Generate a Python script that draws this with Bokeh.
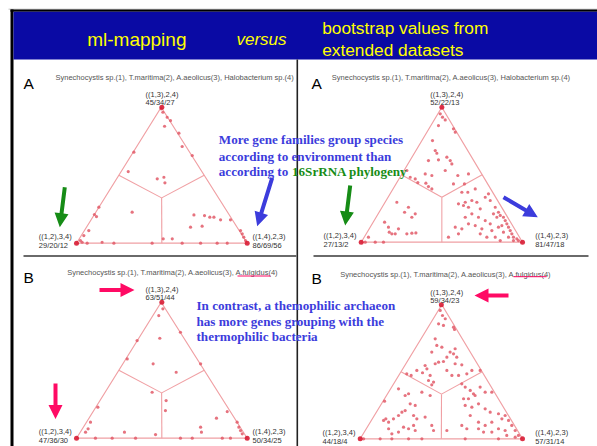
import math
from bokeh.plotting import figure
from bokeh.models import Range1d
from bokeh.core.properties import value
from bokeh.embed import file_html
from bokeh.resources import INLINE

# ---------------- data ----------------
header_left = "ml-mapping"
header_mid = "versus"
header_right = ["bootstrap values from", "extended datasets"]

subtitle_A = "Synechocystis sp.(1), T.maritima(2), A.aeolicus(3), Halobacterium sp.(4)"
subtitle_B = "Synechocystis sp.(1), T.maritima(2), A.aeolicus(3), A.fulgidus(4)"

vertex_top = "((1,3),2,4)"
vertex_left = "((1,2),3,4)"
vertex_right = "((1,4),2,3)"

counts_tl = ["45/34/27", "29/20/12", "86/69/56"]
counts_tr = ["52/22/13", "27/13/2", "81/47/18"]
counts_bl = ["63/51/44", "47/36/30", "50/34/25"]
counts_br = ["59/34/23", "44/18/4", "57/31/14"]

ann1_lines = ["More gene families group species", "according to environment than", "according to"]
ann1_green = "16SrRNA phylogeny"
ann2_lines = ["In contrast, a themophilic archaeon", "has more genes grouping with the", "thermophilic bacteria"]

# points: u = horizontal fraction of base, v = height fraction (apex = 1)
tl_u = [0.496, 0.506, 0.531, 0.551, 0.516, 0.600, 0.619, 0.678, 0.336, 0.303, 0.473, 0.512, 0.518, 0.131, 0.105,
        0.117, 0.326, 0.072, 0.043, 0.023, 0.688, 0.750, 0.781, 0.805, 0.844, 0.902, 0.668, 0.736, 0.508, 0.561,
        0.150, 0.219, 0.443, 0.619, 0.727, 0.824, 0.883, 0.961, 0.971, 0.980, 0.990, 0.033, 0.0625]
tl_v = [0.988, 0.963, 0.926, 0.902, 0.860, 0.809, 0.711, 0.645, 0.669, 0.527, 0.473, 0.485, 0.444, 0.265, 0.211,
        0.196, 0.228, 0.093, 0.056, 0.020, 0.208, 0.203, 0.191, 0.191, 0.172, 0.172, 0.118, 0.125, 0.032, 0.032,
        0.007, 0.0, 0.0, 0.0, 0.0, 0.0, 0.0, 0.093, 0.069, 0.044, 0.020, 0.007, 0.0]

tr_u = [0.490, 0.504, 0.521, 0.479, 0.572, 0.583, 0.442, 0.459, 0.469, 0.531, 0.417, 0.479, 0.552, 0.562, 0.283,
        0.304, 0.397, 0.438, 0.521, 0.599, 0.335, 0.351, 0.401, 0.417, 0.438, 0.665, 0.572, 0.640, 0.707,
        0.221, 0.293, 0.335, 0.314, 0.269, 0.145, 0.169, 0.174, 0.211, 0.190, 0.231, 0.283, 0.314, 0.339, 0.025,
        0.087, 0.138, 0.045,
        0.624, 0.661, 0.645, 0.603, 0.634, 0.665, 0.686, 0.717, 0.738, 0.769, 0.789, 0.800, 0.831, 0.851, 0.862,
        0.882, 0.893, 0.903, 0.913, 0.924, 0.934, 0.944, 0.965, 0.975, 0.686, 0.727, 0.769, 0.800, 0.748, 0.810,
        0.851, 0.882, 0.645, 0.665, 0.707, 0.738, 0.779, 0.831, 0.862, 0.583, 0.624, 0.603, 0.541, 0.820, 0.841,
        0.913, 0.944, 0.872]
tr_v = [0.951, 0.926, 0.906, 0.864, 0.840, 0.815, 0.753, 0.679, 0.659, 0.630, 0.605, 0.610, 0.605, 0.580, 0.531,
        0.481, 0.506, 0.494, 0.531, 0.494, 0.469, 0.442, 0.437, 0.412, 0.395, 0.506, 0.432, 0.432, 0.395,
        0.296, 0.259, 0.210, 0.185, 0.222, 0.148, 0.111, 0.074, 0.062, 0.062, 0.099, 0.062, 0.067, 0.069, 0.0,
        0.0, 0.0, 0.037,
        0.370, 0.370, 0.296, 0.284, 0.272, 0.259, 0.309, 0.296, 0.247, 0.333, 0.358, 0.309, 0.259, 0.222, 0.198,
        0.185, 0.160, 0.136, 0.111, 0.086, 0.062, 0.037, 0.025, 0.012, 0.210, 0.185, 0.160, 0.136, 0.099, 0.086,
        0.111, 0.074, 0.185, 0.136, 0.123, 0.062, 0.037, 0.037, 0.012, 0.111, 0.099, 0.062, 0.037, 0.210, 0.185,
        0.037, 0.012, 0.123]

bl_u = [0.506, 0.482, 0.609, 0.355, 0.488, 0.297, 0.449, 0.727, 0.584, 0.443, 0.525, 0.125, 0.521, 0.820, 0.883,
        0.082, 0.068, 0.053, 0.281, 0.463, 0.727, 0.732, 0.941, 0.951, 0.961, 0.971, 0.111, 0.209, 0.346, 0.609,
        0.678, 0.854, 0.902]
bl_v = [0.951, 0.902, 0.779, 0.718, 0.735, 0.583, 0.547, 0.547, 0.485, 0.338, 0.277, 0.228, 0.203, 0.147, 0.196,
        0.118, 0.069, 0.044, 0.044, 0.027, 0.081, 0.044, 0.118, 0.081, 0.056, 0.032, 0.0, 0.0, 0.0, 0.0,
        0.0, 0.0, 0.0]

br_u = [0.493, 0.507, 0.524, 0.483, 0.513, 0.575, 0.581, 0.462, 0.472, 0.503, 0.585, 0.441, 0.554, 0.575, 0.534,
        0.595, 0.483, 0.462, 0.513, 0.585, 0.626, 0.400, 0.411, 0.287, 0.314, 0.349, 0.384, 0.431, 0.421, 0.452,
        0.441, 0.534, 0.565, 0.606, 0.657, 0.688, 0.739,
        0.236, 0.277, 0.298, 0.380, 0.431, 0.150, 0.158, 0.144, 0.175, 0.205, 0.236, 0.257, 0.277, 0.308, 0.339,
        0.329, 0.349, 0.400, 0.267, 0.298, 0.329, 0.339, 0.236, 0.195, 0.175, 0.441, 0.452, 0.021, 0.123, 0.195,
        0.298, 0.380, 0.534,
        0.626, 0.647, 0.678, 0.698, 0.637, 0.667, 0.708, 0.739, 0.770, 0.811, 0.647, 0.688, 0.729, 0.770, 0.801,
        0.852, 0.893, 0.914, 0.934, 0.955, 0.975, 0.678, 0.729, 0.770, 0.811, 0.626, 0.657, 0.729, 0.760, 0.811,
        0.852, 0.893, 0.903, 0.873, 0.955, 0.647, 0.852]
br_v = [0.958, 0.920, 0.896, 0.858, 0.846, 0.833, 0.816, 0.746, 0.697, 0.684, 0.672, 0.647, 0.647, 0.634, 0.609,
        0.609, 0.572, 0.560, 0.577, 0.560, 0.552, 0.547, 0.522, 0.485, 0.473, 0.510, 0.493, 0.473, 0.435, 0.423,
        0.403, 0.510, 0.473, 0.473, 0.485, 0.510, 0.510,
        0.373, 0.323, 0.336, 0.348, 0.323, 0.281, 0.149, 0.137, 0.124, 0.149, 0.174, 0.199, 0.211, 0.261, 0.249,
        0.174, 0.149, 0.162, 0.087, 0.075, 0.100, 0.062, 0.050, 0.037, 0.075, 0.100, 0.062, 0.0, 0.0, 0.0,
        0.0, 0.0, 0.062,
        0.410, 0.386, 0.361, 0.336, 0.299, 0.299, 0.323, 0.386, 0.348, 0.348, 0.249, 0.236, 0.261, 0.224, 0.199,
        0.187, 0.174, 0.137, 0.100, 0.062, 0.025, 0.174, 0.124, 0.100, 0.124, 0.100, 0.075, 0.075, 0.050, 0.050,
        0.075, 0.062, 0.025, 0.149, 0.012, 0.0, 0.0]

# corner clusters (u, v) for each vertex
corner_u = [0.5, 0.0, 1.0]
corner_v = [1.0, 0.0, 0.0]

# ---------------- styles / layout ----------------
SANS = value("Liberation Sans")
SERIF = value("Liberation Serif")
BLUE_HDR = "#0a0aa4"
YELLOW = "#ffff00"
TRI = "#f0a0a4"
DOT = "#e25a68"
ANN_BLUE = "#3c3cdc"
ANN_GREEN = "#168c16"
PINK = "#ff0a64"

panels = [
    dict(apex=(160.7, 106.7), bl=(76.0, 242.7), br=(246.7, 242.7), u=tl_u, v=tl_v, counts=counts_tl,
         letter="A", lx=23, ly=82.7, sub=subtitle_A, sx=55, sy=77.3, tdx=-15.7, rdx=5.3),
    dict(apex=(441.3, 106.7), bl=(360.7, 241.7), br=(522.0, 241.7), u=tr_u, v=tr_v, counts=counts_tr,
         letter="A", lx=311, ly=82.7, sub=subtitle_A, sx=331.3, sy=77.3, tdx=-11.6, rdx=12.7),
    dict(apex=(160.7, 301.7), bl=(76.0, 437.7), br=(246.7, 437.7), u=bl_u, v=bl_v, counts=counts_bl,
         letter="B", lx=23, ly=276.7, sub=subtitle_B, sx=66.7, sy=272.3, tdx=-15.7, rdx=5.3),
    dict(apex=(441.3, 304.3), bl=(359.7, 438.3), br=(522.0, 438.3), u=br_u, v=br_v, counts=counts_br,
         letter="B", lx=311, ly=277.7, sub=subtitle_B, sx=339.7, sy=274.0, tdx=-11.6, rdx=12.7),
]

p = figure(width=597, height=446, x_range=Range1d(0, 597), y_range=Range1d(446, 0),
           output_backend="svg", toolbar_location=None, x_axis_type=None, y_axis_type=None,
           min_border=0)
p.outline_line_color = None
p.background_fill_color = "white"

# slide frame / header
p.quad(left=[8], right=[597], top=[8.2], bottom=[9], fill_color="#b0b0b0", line_color=None)
p.quad(left=[10], right=[597], top=[9], bottom=[11.3], fill_color="black", line_color=None)
p.quad(left=[10], right=[13], top=[9], bottom=[446], fill_color="black", line_color=None)
p.quad(left=[13], right=[597], top=[11.3], bottom=[59], fill_color=BLUE_HDR, line_color=None)
p.quad(left=[296], right=[297.6], top=[59], bottom=[446], fill_color="#222222", line_color=None)
p.quad(left=[23, 313], right=[296, 588], top=[254.5, 254.5], bottom=[256.5, 256.5],
       fill_color="#6a6a6a", line_color=None)

p.text(x=[86.7], y=[39], text=[header_left], text_font=SANS, text_font_size="19px",
       text_color=YELLOW, text_baseline="alphabetic")
p.text(x=[236], y=[39], text=[header_mid], text_font=SANS, text_font_size="17px",
       text_font_style="italic", text_color=YELLOW, text_baseline="alphabetic")
p.text(x=[321.7, 321.7], y=[27.5, 49], text=header_right, text_font=SANS, text_font_size="17.3px",
       text_color=YELLOW, text_baseline="alphabetic")

for pn in panels:
    ax, ay = pn["apex"]
    lx0, ly0 = pn["bl"]
    rx0, ry0 = pn["br"]
    def to_xy(us, vs):
        xs = [lx0 + u * (rx0 - lx0) for u in us]
        ys = [ly0 - v * (ly0 - ay) for v in vs]
        return xs, ys
    # triangle outline
    p.patch(x=[ax, lx0, rx0], y=[ay, ly0, ry0], fill_color=None, line_color=TRI, line_width=1.2)
    cx, cy = (ax + lx0 + rx0) / 3, (ay + ly0 + ry0) / 3
    mids = [((ax + lx0) / 2, (ay + ly0) / 2), ((ax + rx0) / 2, (ay + ry0) / 2), ((lx0 + rx0) / 2, (ly0 + ry0) / 2)]
    p.multi_line(xs=[[cx, m[0]] for m in mids], ys=[[cy, m[1]] for m in mids], line_color=TRI, line_width=1.1)
    # points
    xs, ys = to_xy(pn["u"], pn["v"])
    p.scatter(x=xs, y=ys, size=3.2, fill_color=DOT, line_color=None, fill_alpha=0.85)
    cxs, cys = to_xy(corner_u, corner_v)
    p.scatter(x=cxs, y=cys, size=5, fill_color="#d81c34", line_color=None, fill_alpha=0.9)
    # vertex labels
    p.text(x=[ax + pn["tdx"]] * 2, y=[ay - 12.7, ay - 4.3], text=[vertex_top, pn["counts"][0]],
           text_font=SANS, text_font_size="7.5px", text_color="#333333", text_baseline="alphabetic")
    p.text(x=[lx0 - 37.7] * 2, y=[ly0 - 6.5, ly0 + 2.3], text=[vertex_left, pn["counts"][1]],
           text_font=SANS, text_font_size="7.5px", text_color="#333333", text_baseline="alphabetic")
    p.text(x=[rx0 + pn["rdx"]] * 2, y=[ry0 - 6.5, ry0 + 2.3], text=[vertex_right, pn["counts"][2]],
           text_font=SANS, text_font_size="7.5px", text_color="#333333", text_baseline="alphabetic")
    # letter and subtitle
    p.text(x=[pn["lx"]], y=[pn["ly"]], text=[pn["letter"]], text_font=SANS, text_font_size="15.5px",
           text_color="black", text_baseline="alphabetic")
    p.text(x=[pn["sx"]], y=[pn["sy"]], text=[pn["sub"]], text_font=SANS, text_font_size="7.5px",
           text_color="#555555", text_baseline="alphabetic")

# underline of A.fulgidus
p.multi_line(xs=[[237, 270], [513, 546]], ys=[[275.5, 275.5], [276.2, 276.2]], line_color=PINK, line_width=1)

# annotations
p.text(x=[218.3] * 3, y=[139.3, 155.5, 170.5], text=ann1_lines, text_font=SERIF, text_font_size="13.1px",
       text_font_style="bold", text_color=ANN_BLUE, text_baseline="alphabetic")
p.text(x=[291.5], y=[170.5], text=[ann1_green], text_font=SERIF, text_font_size="13.1px",
       text_font_style="bold", text_color=ANN_GREEN, text_baseline="alphabetic")
p.text(x=[196] * 3, y=[305, 320.7, 336], text=ann2_lines, text_font=SERIF, text_font_size="13.1px",
       text_font_style="bold", text_color=ANN_BLUE, text_baseline="alphabetic")


def arrow_poly(x0, y0, x1, y1, sw=4.0, hw=14.0, hl=14.0):
    dx, dy = x1 - x0, y1 - y0
    L = math.hypot(dx, dy)
    ux, uy = dx / L, dy / L
    nx, ny = -uy, ux
    bx, by = x1 - ux * hl, y1 - uy * hl
    pts = [(x0 + nx * sw / 2, y0 + ny * sw / 2), (bx + nx * sw / 2, by + ny * sw / 2),
           (bx + nx * hw / 2, by + ny * hw / 2), (x1, y1), (bx - nx * hw / 2, by - ny * hw / 2),
           (bx - nx * sw / 2, by - ny * sw / 2), (x0 - nx * sw / 2, y0 - ny * sw / 2)]
    return [q[0] for q in pts], [q[1] for q in pts]


arrows = [
    ((64.3, 186.7, 59.3, 226.7), ANN_GREEN),
    ((271.7, 177.3, 256.7, 225.7), ANN_BLUE),
    ((349.7, 185.0, 344.7, 225.0), ANN_GREEN),
    ((503.0, 196.7, 537.3, 216.7), ANN_BLUE),
    ((99.0, 289.5, 134.0, 289.5), PINK),
    ((55.0, 383.0, 55.0, 418.5), PINK),
    ((508.0, 295.0, 474.0, 295.0), PINK),
]
axs, ays, acol = [], [], []
for (x0, y0, x1, y1), col in arrows:
    xx, yy = arrow_poly(x0, y0, x1, y1)
    axs.append(xx)
    ays.append(yy)
    acol.append(col)
p.patches(xs=axs, ys=ays, fill_color=acol, line_color=None)

open("out.html", "w").write(file_html(p, INLINE))
